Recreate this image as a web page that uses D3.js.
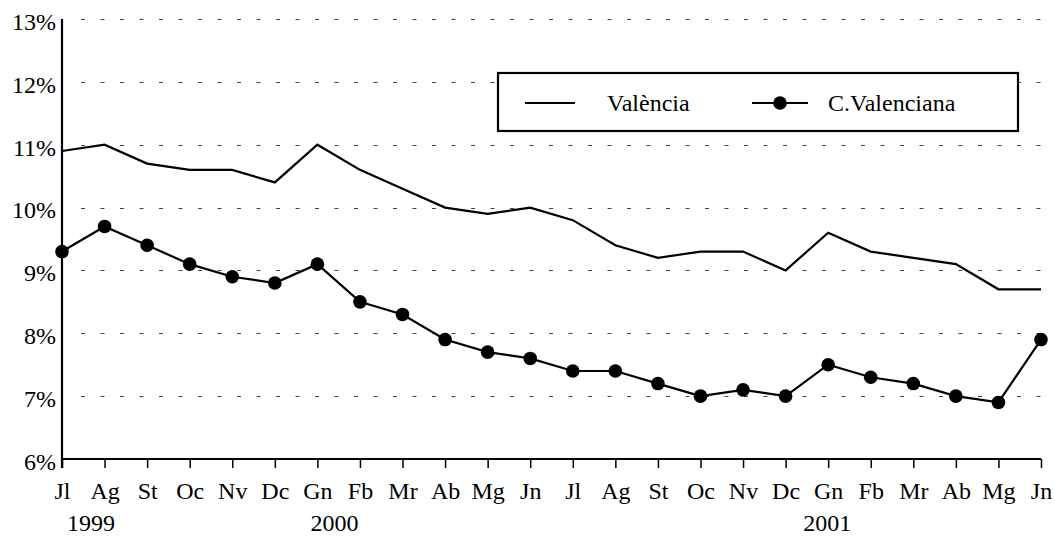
<!DOCTYPE html>
<html>
<head>
<meta charset="utf-8">
<script src="https://cdn.jsdelivr.net/npm/d3@7"></script>
<style>
  body { margin: 0; background: #fff; }
  svg { display: block; }
  text { font-family: "Liberation Serif", "Times New Roman", serif; fill: #000; }
</style>
</head>
<body>
<svg id="chart" width="1055" height="537"></svg>
<script>
// months Jul 1999 - Jun 2001
const months = ["Jl", "Ag", "St", "Oc", "Nv", "Dc", "Gn", "Fb", "Mr", "Ab", "Mg", "Jn",
                "Jl", "Ag", "St", "Oc", "Nv", "Dc", "Gn", "Fb", "Mr", "Ab", "Mg", "Jn"];
const years = ["1999", "2000", "2001"];
const yearStart = [0, 6, 18];

const valencia = [10.9, 11.0, 10.7, 10.6, 10.6, 10.4, 11.0, 10.6, 10.3, 10.0, 9.9, 10.0,
                  9.8, 9.4, 9.2, 9.3, 9.3, 9.0, 9.6, 9.3, 9.2, 9.1, 8.7, 8.7];
const cValenciana = [9.3, 9.7, 9.4, 9.1, 8.9, 8.8, 9.1, 8.5, 8.3, 7.9, 7.7, 7.6,
                     7.4, 7.4, 7.2, 7.0, 7.1, 7.0, 7.5, 7.3, 7.2, 7.0, 6.9, 7.9];
const yTicks = [6, 7, 8, 9, 10, 11, 12, 13];
const seriesNames = ["València", "C.Valenciana"];

const svg = d3.select("#chart");
const margin = { top: 19, right: 14, bottom: 78, left: 62 };
const width = 1055, height = 537;

const x = d3.scalePoint().domain(d3.range(months.length)).range([margin.left, width - margin.right]);
const y = d3.scaleLinear().domain([6, 13]).range([height - margin.bottom, margin.top]);

// dashed gridlines
svg.append("g")
    .selectAll("line")
    .data(yTicks.filter(d => d > 6))
    .join("line")
    .attr("x1", margin.left + 19)
    .attr("x2", width - margin.right)
    .attr("y1", d => Math.round(y(d)) + 0.5)
    .attr("y2", d => Math.round(y(d)) + 0.5)
    .attr("stroke", "#444")
    .attr("stroke-width", 1)
    .attr("stroke-dasharray", "4,15.5");

// y labels
svg.append("g")
    .selectAll("text")
    .data(yTicks)
    .join("text")
    .attr("x", margin.left - 6)
    .attr("y", d => y(d))
    .attr("dy", "0.45em")
    .attr("text-anchor", "end")
    .style("font-size", "24px")
    .text(d => d + "%");

// x axis
const xAxis = svg.append("g")
    .attr("transform", `translate(0, ${y(6)})`)
    .call(d3.axisBottom(x).tickSize(9).tickFormat(i => months[i]));
xAxis.select(".domain").remove();
xAxis.selectAll(".tick line").attr("stroke", "#000").attr("stroke-width", 1.5);
xAxis.selectAll(".tick text")
    .attr("y", 23)
    .attr("dy", "0.71em")
    .style("font-size", "24px")
    .style("font-family", "Liberation Serif, Times New Roman, serif");

// year labels
const yearShift = [29, 17, -1];
svg.append("g")
    .selectAll("text")
    .data(years)
    .join("text")
    .attr("x", (d, i) => x(yearStart[i]) + yearShift[i])
    .attr("y", 531)
    .attr("text-anchor", "middle")
    .style("font-size", "24px")
    .text(d => d);

// axes lines
svg.append("line")
    .attr("x1", margin.left).attr("x2", margin.left)
    .attr("y1", y(13)).attr("y2", y(6) + 9)
    .attr("stroke", "#000").attr("stroke-width", 2.2);
svg.append("line")
    .attr("x1", margin.left).attr("x2", width - margin.right)
    .attr("y1", y(6)).attr("y2", y(6))
    .attr("stroke", "#000").attr("stroke-width", 2.2);

const line = d3.line().x((d, i) => x(i)).y(d => y(d));

svg.append("path")
    .datum(valencia)
    .attr("d", line)
    .attr("fill", "none")
    .attr("stroke", "#000")
    .attr("stroke-width", 2.2);

svg.append("path")
    .datum(cValenciana)
    .attr("d", line)
    .attr("fill", "none")
    .attr("stroke", "#000")
    .attr("stroke-width", 2.2);

svg.append("g")
    .selectAll("circle")
    .data(cValenciana)
    .join("circle")
    .attr("cx", (d, i) => x(i))
    .attr("cy", d => y(d))
    .attr("r", 6.8)
    .attr("fill", "#000");

// legend
const lg = svg.append("g").attr("transform", "translate(498, 73)");
lg.append("rect")
    .attr("width", 520).attr("height", 58)
    .attr("fill", "#fff").attr("stroke", "#000").attr("stroke-width", 2.2);
lg.append("line")
    .attr("x1", 27).attr("x2", 77).attr("y1", 30).attr("y2", 30)
    .attr("stroke", "#000").attr("stroke-width", 2.2);
lg.append("text")
    .attr("x", 109).attr("y", 30).attr("dy", "0.35em")
    .style("font-size", "24px")
    .text(seriesNames[0]);
lg.append("line")
    .attr("x1", 254).attr("x2", 310).attr("y1", 30).attr("y2", 30)
    .attr("stroke", "#000").attr("stroke-width", 2.2);
lg.append("circle")
    .attr("cx", 282).attr("cy", 30).attr("r", 6.8).attr("fill", "#000");
lg.append("text")
    .attr("x", 330).attr("y", 30).attr("dy", "0.35em")
    .style("font-size", "24px")
    .text(seriesNames[1]);
</script>
</body>
</html>
